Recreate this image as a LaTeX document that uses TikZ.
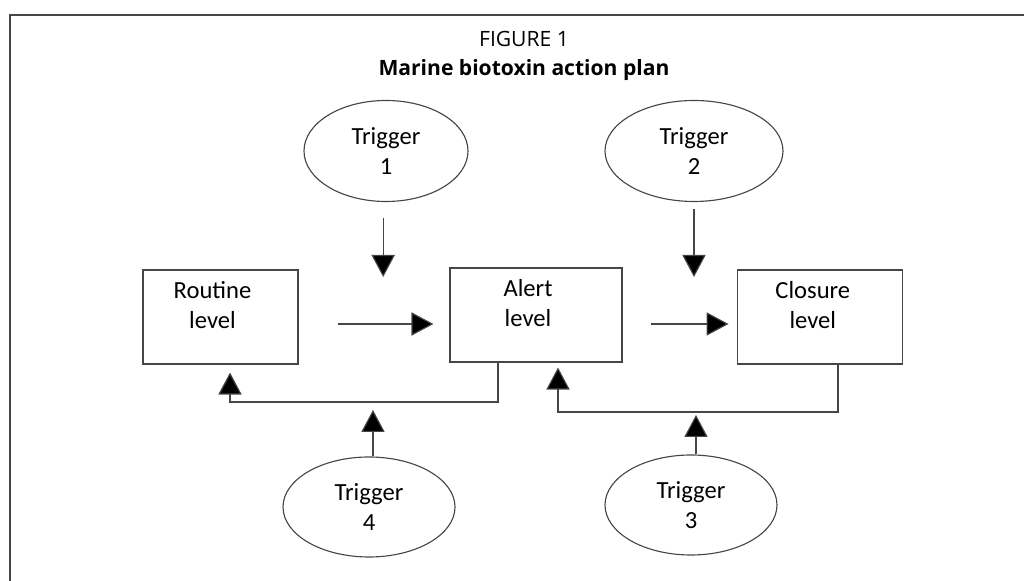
\documentclass[tikz,border=0pt]{standalone}
\usepackage{fontspec}
\setmainfont{Carlito}
\newfontfamily\titlefont{Open Sans}
\usepackage{xcolor}
\usepackage{tikz}
\usetikzlibrary{shapes.geometric, arrows.meta}
\definecolor{linegray}{RGB}{70, 70, 70}

\begin{document}
\begin{tikzpicture}[scale=1,
  trigger/.style={ellipse, draw=linegray, line width=0.8pt, minimum height=2.5cm, align=center, font=\fontsize{17.5}{21.5}\selectfont, inner sep=0pt},
  levelbox/.style={rectangle, draw=linegray, line width=0.8pt, minimum height=2.35cm},
  leveltext/.style={align=center, font=\fontsize{17.5}{21.5}\selectfont},
  flowarrow/.style={draw=linegray, line width=0.8pt, -{Triangle[width=0.58cm, length=0.55cm, fill=black]}}]
\useasboundingbox (0,0) rectangle (25.6,14.525);
% Frame
\draw[linegray, line width=0.8pt] (0.25,0) -- (0.25,14.15) -- (25.6,14.15);

% Title
\node[font=\titlefont\fontsize{15}{18}\selectfont, anchor=base] (figno) at (13.1,13.35) {FIGURE 1};
\node[font=\titlefont\fontsize{15}{18}\selectfont\bfseries, anchor=base] (figtitle) at (13.1,12.625) {Marine biotoxin action plan};

% Levels
\node[levelbox, minimum width=3.875cm] (routine) at (5.5125,6.6) {};
\node[levelbox, minimum width=4.3cm] (alert) at (13.4,6.65) {};
\node[levelbox, minimum width=4.125cm] (closure) at (20.49,6.6) {};
\node[leveltext] (routinetxt) at ([xshift=-0.2cm, yshift=0.3cm]routine.center) {Routine\\level};
\node[leveltext] (alerttxt) at ([xshift=-0.2cm, yshift=0.3cm]alert.center) {Alert\\level};
\node[leveltext] (closuretxt) at ([xshift=-0.17cm, yshift=0.3cm]closure.center) {Closure\\level};

% Triggers
\node[trigger, minimum width=4.1cm, minimum height=2.525cm] (t1) at (9.65,10.75) {Trigger\\1};
\node[trigger, minimum width=4.45cm, minimum height=2.525cm] (t2) at (17.35,10.75) {Trigger\\2};
\node[trigger, minimum width=4.3cm] (t3) at (17.275,1.9) {Trigger\\3};
\node[trigger, minimum width=4.3cm] (t4) at (9.225,1.85) {Trigger\\4};

% Arrows down into the levels
\draw[flowarrow, shorten <=0.39cm, shorten >=0.95cm] ([xshift=-0.07cm]t1.south) -- ([xshift=-0.07cm]t1.south |- alert.east);
\draw[flowarrow, shorten <=0.18cm, shorten >=1.0cm] (t2.south) -- (t2.south |- closure.east);

% Arrows between the levels
\draw[flowarrow, shorten <=0.975cm, shorten >=0.4cm] ([yshift=-0.175cm]routine.east) -- ([yshift=-0.175cm]routine.east -| alert.west);
\draw[flowarrow, shorten <=0.7cm, shorten >=0.2cm] ([yshift=-0.175cm]routine.east -| alert.east) -- ([yshift=-0.175cm]routine.east -| closure.west);

% Arrows back down a level
\coordinate (back1) at (5.75,4.475);
\coordinate (back2) at (13.95,4.225);
\draw[flowarrow, shorten >=0.2cm] ([xshift=-0.95cm]alert.south) |- (back1) -- ([xshift=0.2375cm]routine.south);
\draw[flowarrow, shorten >=0.125cm] ([xshift=0.46cm]closure.south) |- (back2) -- ([xshift=0.55cm]alert.south);
\draw[flowarrow, shorten >=0.2cm] ([xshift=0.1cm]t4.north) -- ([xshift=0.1cm]t4.north |- back1);
\draw[flowarrow, shorten >=0.075cm] ([xshift=0.125cm]t3.north) -- ([xshift=0.125cm]t3.north |- back2);
\end{tikzpicture}
\end{document}
